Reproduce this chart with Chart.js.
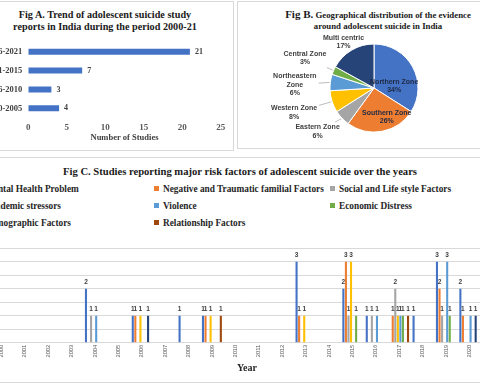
<!DOCTYPE html>
<html>
<head>
<meta charset="utf-8">
<script src="https://cdn.jsdelivr.net/npm/chart.js@4.4.0/dist/chart.umd.min.js"></script>
<style>
  body { margin: 0; background: #fff; }
  #page { position: relative; width: 480px; height: 384px; overflow: hidden; background: #fff; font-family: "Liberation Serif", "Times New Roman", serif; }
  .panel { position: absolute; border: 1px solid #d9d9d9; box-sizing: border-box; }
  .title { position: absolute; font-weight: bold; color: #1a1a1a; text-align: center; white-space: nowrap; }
  .legend-item { position: absolute; font-weight: bold; font-size: 9.3px; line-height: 12px; color: #262626; white-space: nowrap; }
  .legend-item span { display: inline-block; width: 5px; height: 5px; margin-right: 4px; vertical-align: 1px; }
  canvas { position: absolute; }
</style>
</head>
<body>
<div id="page">
  <div class="panel" style="left:-5px;top:1px;width:239px;height:150px"></div>
  <div class="panel" style="left:237px;top:1px;width:250px;height:148px"></div>
  <div class="panel" style="left:-5px;top:157px;width:492px;height:226px"></div>

  <div class="title" style="left:0;width:210px;top:9px;font-size:10.2px;line-height:12px">Fig A. Trend of adolescent suicide study<br>reports in India during the period 2000-21</div>
  <div class="title" style="left:276px;width:204px;top:9px;font-size:8.8px;line-height:11px"><span style="font-size:11px">Fig B.</span> Geographical distribution of the evidence<br>around adolescent suicide in India</div>
  <div class="title" style="left:0;width:480px;top:165px;font-size:10.6px;line-height:14px">Fig C. Studies reporting major risk factors of adolescent suicide over the years</div>

  <canvas id="chartA" width="262" height="148" style="left:-30px;top:0;width:262px;height:148px"></canvas>
  <canvas id="chartB" width="243" height="148" style="left:237px;top:0;width:243px;height:148px"></canvas>
  <canvas id="chartC" width="560" height="146" style="left:-40px;top:238px;width:560px;height:146px"></canvas>
  <div id="legendC"></div>
</div>
<script>
'use strict';

const SERIF = '"Liberation Serif", "Times New Roman", serif';
const SANS = '"Liberation Sans", Arial, sans-serif';

// Fig A - studies per period
const periodLabels = ['2016-2021', '2011-2015', '2006-2010', '2000-2005'];
const periodStudies = [21, 7, 3, 4];

// Fig B - geographical share (%)
const zoneLabels = ['Northern Zone', 'Southern Zone', 'Eastern Zone', 'Western Zone', ['Northeastern', 'Zone'], 'Central Zone', 'Multi centric'];
const zoneShares = [34, 26, 6, 8, 6, 3, 17];
const zoneColors = ['#4472C4', '#ED7D31', '#A5A5A5', '#FFC000', '#5B9BD5', '#70AD47', '#264478'];

// Fig C - risk factors by year
const years = ['2000', '2001', '2002', '2003', '2004', '2005', '2006', '2007', '2008', '2009', '2010',
  '2011', '2012', '2013', '2014', '2015', '2016', '2017', '2018', '2019', '2020', '2021'];
const riskNames = ['Mental Health Problem', 'Negative and Traumatic familial Factors', 'Social and Life style Factors',
  'Academic stressors', 'Violence', 'Economic Distress', 'Demographic Factors', 'Relationship Factors'];
const riskColors = ['#4472C4', '#ED7D31', '#A5A5A5', '#FFC000', '#5B9BD5', '#70AD47', '#264478', '#9E480E'];
const mentalHealth = [0, 0, 0, 0, 2, 0, 1, 0, 1, 1, 0, 0, 0, 3, 0, 2, 1, 0, 1, 3, 2, 0];
const familial = [0, 0, 0, 0, 0, 0, 1, 0, 0, 1, 0, 0, 0, 1, 0, 3, 0, 1, 0, 2, 1, 0];
const socialLife = [0, 0, 0, 0, 1, 0, 0, 0, 0, 0, 0, 0, 0, 0, 0, 1, 1, 2, 0, 1, 0, 0];
const academic = [0, 0, 0, 0, 0, 0, 1, 0, 0, 1, 0, 0, 0, 1, 0, 3, 0, 1, 0, 0, 0, 0];
const violence = [0, 0, 0, 0, 1, 0, 0, 0, 0, 0, 0, 0, 0, 0, 0, 0, 1, 1, 0, 3, 1, 0];
const economic = [0, 0, 0, 0, 0, 0, 0, 0, 0, 0, 0, 0, 0, 0, 0, 1, 0, 1, 0, 1, 0, 0];
const demographic = [0, 0, 0, 0, 0, 0, 1, 0, 0, 0, 0, 0, 0, 0, 0, 0, 0, 0, 0, 0, 1, 0];
const relationship = [0, 0, 0, 0, 0, 0, 0, 0, 0, 1, 0, 0, 0, 0, 0, 0, 0, 1, 0, 0, 0, 0];
const riskSeries = [mentalHealth, familial, socialLife, academic, violence, economic, demographic, relationship];


// numbers next to / above bars
const valueLabels = {
  id: 'valueLabels',
  afterDatasetsDraw(chart, args, opts) {
    let ctx = chart.ctx;
    ctx.save();
    ctx.font = opts.font;
    ctx.fillStyle = opts.color;
    chart.data.datasets.forEach((ds, i) => {
      chart.getDatasetMeta(i).data.forEach((bar, j) => {
        let v = ds.data[j];
        if (!v) return;
        if (chart.options.indexAxis === 'y') {
          ctx.textAlign = 'left';
          ctx.textBaseline = 'middle';
          ctx.fillText(v, bar.x + opts.offset, bar.y);
        } else {
          ctx.textAlign = 'center';
          ctx.textBaseline = 'bottom';
          ctx.fillText(v, bar.x, bar.y - opts.offset);
        }
      });
    });
    ctx.restore();
  }
};

// pie labels with leader lines
const pieLabels = {
  id: 'pieLabels',
  afterDatasetsDraw(chart, args, opts) {
    let ctx = chart.ctx;
    let arcs = chart.getDatasetMeta(0).data;
    ctx.save();
    ctx.font = opts.font;
    ctx.textAlign = 'center';
    ctx.textBaseline = 'middle';
    arcs.forEach((arc, i) => {
      let place = opts.placement[i];
      let mid = (arc.startAngle + arc.endAngle) / 2;
      let ang = mid + place[1] * Math.PI / 180;
      let lx = arc.x + Math.cos(ang) * arc.outerRadius * place[0];
      let ly = arc.y + Math.sin(ang) * arc.outerRadius * place[0];
      let name = chart.data.labels[i];
      let lines = (Array.isArray(name) ? name : [name]).concat(chart.data.datasets[0].data[i] + '%');
      let lh = opts.lineHeight;
      let w = Math.max(...lines.map(t => ctx.measureText(t).width));
      let h = lines.length * lh;
      if (place[0] > 1) {
        let ex = arc.x + Math.cos(mid) * (arc.outerRadius + 1);
        let ey = arc.y + Math.sin(mid) * (arc.outerRadius + 1);
        let dx = lx - ex;
        let dy = ly - ey;
        let s = Math.min((w / 2 + 2) / Math.abs(dx || 1e-6), (h / 2 + 1) / Math.abs(dy || 1e-6));
        if (s < 1) {
          ctx.strokeStyle = '#a6a6a6';
          ctx.lineWidth = 0.75;
          ctx.beginPath();
          ctx.moveTo(ex, ey);
          ctx.lineTo(lx - dx * s, ly - dy * s);
          ctx.stroke();
        }
      }
      ctx.fillStyle = place[0] > 1 ? opts.outerColor : opts.innerColor;
      lines.forEach((t, k) => {
        ctx.fillText(t, lx, ly - h / 2 + lh / 2 + k * lh);
      });
    });
    ctx.restore();
  }
};


let chartA = new Chart(document.getElementById('chartA'), {
  type: 'bar',
  data: {
    labels: periodLabels,
    datasets: [{
      data: periodStudies,
      backgroundColor: '#4472C4',
      barPercentage: 0.32,
      categoryPercentage: 1
    }]
  },
  options: {
    indexAxis: 'y',
    responsive: false,
    animation: false,
    devicePixelRatio: 1,
    layout: { padding: { top: 42.2, right: 11.3, bottom: 5.6, left: 0 } },
    plugins: {
      legend: { display: false },
      tooltip: { enabled: false },
      valueLabels: { font: 'bold 8px ' + SERIF, color: '#404040', offset: 5 }
    },
    scales: {
      x: {
        min: 0,
        max: 25,
        ticks: { stepSize: 5, padding: 4, color: '#595959', font: { family: SERIF, size: 9, weight: 'bold' } },
        grid: { display: false, drawTicks: false },
        border: { display: false },
        title: { display: true, text: 'Number of Studies', padding: 0, color: '#404040', font: { family: SERIF, size: 8.5, weight: 'bold' } },
        afterFit(scale) { scale.height = 24.6; }
      },
      y: {
        ticks: { padding: 6, color: '#404040', font: { family: SERIF, size: 8.5, weight: 'bold' } },
        grid: { display: false, drawTicks: false },
        border: { display: false },
        afterFit(scale) { scale.width = 58.3; }
      }
    }
  },
  plugins: [valueLabels]
});

let chartB = new Chart(document.getElementById('chartB'), {
  type: 'pie',
  data: {
    labels: zoneLabels,
    datasets: [{
      data: zoneShares,
      backgroundColor: zoneColors,
      borderColor: '#ffffff',
      borderWidth: 1
    }]
  },
  options: {
    responsive: false,
    animation: false,
    devicePixelRatio: 1,
    layout: { padding: { top: 43.5, right: 61.5, bottom: 15.5, left: 92.5 } },
    plugins: {
      legend: { display: false },
      tooltip: { enabled: false },
      pieLabels: {
        font: 'bold 7px ' + SANS,
        lineHeight: 8.5,
        innerColor: '#1f2a44',
        outerColor: '#404040',
        // [distance as share of radius, angle shift in degrees]
        placement: [[0.46, 24], [0.72, -13], [1.62, 5.5], [1.9, 1], [1.8, -5], [1.71, 0], [1.25, -3]]
      }
    }
  },
  plugins: [pieLabels]
});

let chartC = new Chart(document.getElementById('chartC'), {
  type: 'bar',
  data: {
    labels: years,
    datasets: riskSeries.map((vals, i) => ({
      label: riskNames[i],
      data: vals,
      backgroundColor: riskColors[i],
      barPercentage: 0.82,
      categoryPercentage: 0.872
    }))
  },
  options: {
    responsive: false,
    animation: false,
    devicePixelRatio: 1,
    layout: { padding: { top: 10.3, right: 15.6, bottom: 10, left: 0 } },
    plugins: {
      legend: { display: false },
      tooltip: { enabled: false },
      valueLabels: { font: 'bold 6.5px ' + SANS, color: '#404040', offset: 3 }
    },
    scales: {
      x: {
        grid: { display: false, drawTicks: false },
        border: { display: true, color: '#d9d9d9' },
        ticks: { autoSkip: false, minRotation: 90, maxRotation: 90, padding: 2, color: '#595959', font: { family: SANS, size: 5.8 } },
        title: { display: true, text: 'Year', padding: 0, color: '#262626', font: { family: SERIF, size: 10, weight: 'bold' } },
        afterFit(scale) { scale.height = 31.3; }
      },
      y: {
        min: 0,
        max: 3.5,
        ticks: { stepSize: 0.5, color: '#595959', font: { family: SANS, size: 6 } },
        grid: { color: '#d9d9d9', drawTicks: false },
        border: { display: false },
        afterFit(scale) { scale.width = 29.6; }
      }
    }
  },
  plugins: [valueLabels]
});

// legend for Fig C, three columns like the original
let legendC = document.getElementById('legendC');
let colLeft = [-24, 154, 330];
let rowTop = [183, 200, 216.7];
riskNames.forEach((name, i) => {
  let item = document.createElement('div');
  item.className = 'legend-item';
  item.style.left = colLeft[i % 3] + 'px';
  item.style.top = rowTop[Math.floor(i / 3)] + 'px';
  item.innerHTML = '<span style="background:' + riskColors[i] + '"></span>' + name;
  legendC.appendChild(item);
});
</script>
</body>
</html>
